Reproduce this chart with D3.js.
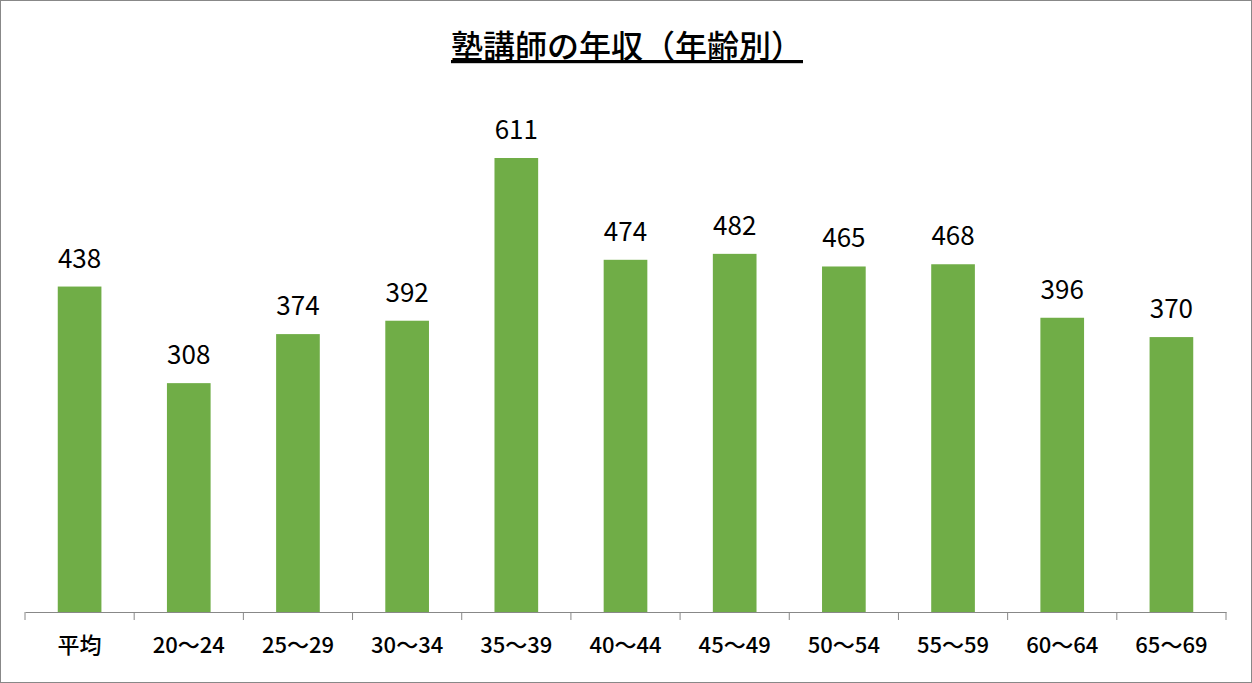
<!DOCTYPE html>
<html><head><meta charset="utf-8">
<script src="https://cdn.jsdelivr.net/npm/d3@7"></script>
<style>body{margin:0;background:#fff}</style>
</head><body>
<svg id="c" width="1252" height="683"></svg>
<script>
const categories = ["平均","20～24","25～29","30～34","35～39","40～44","45～49","50～54","55～59","60～64","65～69"];
const values = [438,308,374,392,611,474,482,465,468,396,370];
const title = "塾講師の年収（年齢別）";

const svg = d3.select("#c");
const font = "'Noto Sans CJK JP','Noto Sans',sans-serif";

svg.append("rect").attr("x",0.5).attr("y",0.5).attr("width",1251).attr("height",682)
  .attr("fill","#fff").attr("stroke","#888");

const x = d3.scaleBand().domain(categories).range([25,1226]).paddingInner(0.6).paddingOuter(0.3);
const y = d3.scaleLinear().domain([0,611]).range([612,158]);

svg.selectAll(".bar").data(values).enter().append("rect")
  .attr("x",(d,i)=>x(categories[i])).attr("width",x.bandwidth())
  .attr("y",d=>y(d)).attr("height",d=>y(0)-y(d)).attr("fill","#70ad47");

svg.selectAll(".lbl").data(values).enter().append("text")
  .attr("x",(d,i)=>x(categories[i])+x.bandwidth()/2).attr("y",d=>y(d)-19)
  .attr("text-anchor","middle").attr("font-family",font).attr("font-size",26).attr("fill","#000")
  .text(d=>d);

const ax = svg.append("g").attr("transform","translate(0,612)")
  .call(d3.axisBottom(x).tickSize(0).tickPadding(25));
ax.select(".domain").attr("stroke","#888");
ax.selectAll("text").attr("font-family",font).attr("font-size",22).attr("font-weight",500).attr("fill","#000");
d3.range(categories.length+1).forEach(i=>{
  const xx = 25 + i*(1201/categories.length);
  ax.append("line").attr("x1",xx).attr("x2",xx).attr("y1",0).attr("y2",8).attr("stroke","#888");
});

svg.append("text").attr("x",627).attr("y",58).attr("text-anchor","middle")
  .attr("font-family",font).attr("font-size",32).attr("font-weight",500)
  .attr("text-decoration","underline").text(title);
</script>
</body></html>
